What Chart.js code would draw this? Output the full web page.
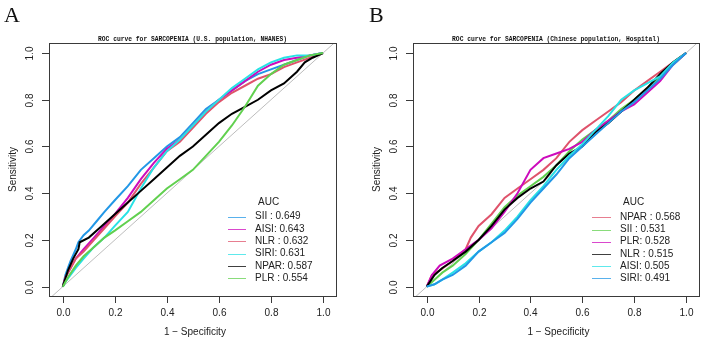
<!DOCTYPE html>
<html>
<head>
<meta charset="utf-8">
<script src="https://cdn.jsdelivr.net/npm/chart.js@4.4.0/dist/chart.umd.min.js"></script>
<style>
  html, body { margin: 0; padding: 0; background: #fff; }
  #wrap { position: relative; width: 708px; height: 345px; overflow: hidden; }
  .panel { position: absolute; top: 0; width: 354px; height: 345px; }
  .letter { position: absolute; top: 3px; font-family: "Liberation Serif", "DejaVu Serif", serif; font-size: 22px; line-height: 24px; color: #111; }
</style>
</head>
<body>
<div id="wrap">
  <div class="panel" style="left:0"><canvas id="rocA"></canvas></div>
  <div class="panel" style="left:354px"><canvas id="rocB"></canvas></div>
  <div class="letter" style="left:4px">A</div>
  <div class="letter" style="left:369px">B</div>
</div>
<script>
// axis ticks shared by both panels
const tickValues = [0, 0.2, 0.4, 0.6, 0.8, 1.0];
const tickLabels = ['0.0', '0.2', '0.4', '0.6', '0.8', '1.0'];

// ---- Panel A: U.S. population, NHANES ----
const titleA = 'ROC curve for SARCOPENIA (U.S. population, NHANES)';
const labelsA = ['SII : ', 'AISI: ', 'NLR : ', 'SIRI: ', 'NPAR: ', 'PLR : '];
const aucA = [0.649, 0.643, 0.632, 0.631, 0.587, 0.554];
const colorsA = ['#2297E6', '#CD0BBC', '#DF536B', '#28E2E5', '#000000', '#61D04F'];

const fprA_SII = [0, 0.01, 0.02, 0.03, 0.05, 0.06, 0.08, 0.1, 0.13, 0.16, 0.2, 0.25, 0.3, 0.35, 0.4, 0.45, 0.5, 0.55, 0.6, 0.65, 0.7, 0.75, 0.8, 0.85, 0.9, 0.95, 1];
const tprA_SII = [0, 0.05, 0.08, 0.11, 0.16, 0.19, 0.22, 0.24, 0.28, 0.32, 0.37, 0.43, 0.5, 0.55, 0.6, 0.64, 0.7, 0.76, 0.8, 0.84, 0.88, 0.91, 0.93, 0.95, 0.97, 0.99, 1];
const fprA_AISI = [0, 0.01, 0.03, 0.05, 0.08, 0.12, 0.16, 0.2, 0.25, 0.3, 0.35, 0.4, 0.45, 0.5, 0.55, 0.6, 0.65, 0.7, 0.75, 0.8, 0.85, 0.9, 0.95, 1];
const tprA_AISI = [0, 0.04, 0.08, 0.12, 0.16, 0.21, 0.26, 0.31, 0.38, 0.46, 0.53, 0.59, 0.63, 0.69, 0.75, 0.8, 0.84, 0.88, 0.92, 0.95, 0.97, 0.98, 0.99, 1];
const fprA_NLR = [0, 0.01, 0.03, 0.05, 0.08, 0.12, 0.16, 0.2, 0.25, 0.3, 0.35, 0.4, 0.45, 0.5, 0.55, 0.6, 0.65, 0.7, 0.75, 0.8, 0.85, 0.9, 0.95, 1];
const tprA_NLR = [0, 0.04, 0.08, 0.12, 0.15, 0.2, 0.25, 0.3, 0.36, 0.44, 0.51, 0.58, 0.62, 0.68, 0.74, 0.79, 0.83, 0.86, 0.89, 0.91, 0.94, 0.96, 0.98, 1];
const fprA_SIRI = [0, 0.01, 0.03, 0.05, 0.08, 0.12, 0.16, 0.2, 0.25, 0.3, 0.35, 0.4, 0.45, 0.5, 0.55, 0.6, 0.65, 0.7, 0.75, 0.8, 0.85, 0.9, 0.95, 1];
const tprA_SIRI = [0, 0.02, 0.05, 0.08, 0.12, 0.17, 0.21, 0.26, 0.32, 0.42, 0.51, 0.58, 0.63, 0.69, 0.75, 0.8, 0.85, 0.89, 0.93, 0.96, 0.98, 0.99, 0.99, 1];
const fprA_NPAR = [0, 0.02, 0.04, 0.06, 0.065, 0.1, 0.15, 0.2, 0.25, 0.3, 0.35, 0.4, 0.45, 0.5, 0.55, 0.6, 0.65, 0.7, 0.75, 0.8, 0.85, 0.9, 0.93, 0.96, 1];
const tprA_NPAR = [0, 0.07, 0.12, 0.16, 0.19, 0.21, 0.26, 0.31, 0.36, 0.41, 0.46, 0.51, 0.56, 0.6, 0.65, 0.7, 0.74, 0.77, 0.8, 0.84, 0.87, 0.92, 0.96, 0.98, 1];
const fprA_PLR = [0, 0.02, 0.05, 0.08, 0.12, 0.16, 0.2, 0.25, 0.3, 0.35, 0.4, 0.45, 0.5, 0.55, 0.6, 0.65, 0.7, 0.75, 0.8, 0.85, 0.9, 0.95, 1];
const tprA_PLR = [0, 0.04, 0.09, 0.13, 0.17, 0.21, 0.24, 0.28, 0.32, 0.37, 0.42, 0.46, 0.5, 0.56, 0.62, 0.69, 0.77, 0.86, 0.91, 0.95, 0.97, 0.99, 1];

// ---- Panel B: Chinese population, Hospital ----
const titleB = 'ROC curve for SARCOPENIA (Chinese population, Hospital)';
const labelsB = ['NPAR : ', 'SII : ', 'PLR: ', 'NLR : ', 'AISI: ', 'SIRI: '];
const aucB = [0.568, 0.531, 0.528, 0.515, 0.505, 0.491];
const colorsB = ['#DF536B', '#61D04F', '#CD0BBC', '#000000', '#28E2E5', '#2297E6'];

const fprB_NPAR = [0, 0.02, 0.05, 0.1, 0.15, 0.17, 0.2, 0.25, 0.3, 0.35, 0.4, 0.45, 0.5, 0.55, 0.6, 0.65, 0.7, 0.75, 0.8, 0.85, 0.9, 0.95, 1];
const tprB_NPAR = [0, 0.05, 0.07, 0.11, 0.16, 0.21, 0.26, 0.31, 0.38, 0.42, 0.46, 0.5, 0.55, 0.62, 0.67, 0.71, 0.75, 0.79, 0.84, 0.88, 0.92, 0.96, 1];
const fprB_SII = [0, 0.03, 0.06, 0.1, 0.15, 0.2, 0.25, 0.3, 0.35, 0.4, 0.45, 0.5, 0.55, 0.6, 0.65, 0.7, 0.75, 0.8, 0.85, 0.9, 0.95, 1];
const tprB_SII = [0, 0.03, 0.06, 0.09, 0.14, 0.2, 0.27, 0.34, 0.39, 0.43, 0.47, 0.52, 0.58, 0.63, 0.67, 0.71, 0.76, 0.8, 0.85, 0.9, 0.95, 1];
const fprB_PLR = [0, 0.02, 0.05, 0.1, 0.15, 0.2, 0.25, 0.3, 0.35, 0.4, 0.45, 0.5, 0.55, 0.6, 0.65, 0.7, 0.75, 0.8, 0.85, 0.9, 0.95, 1];
const tprB_PLR = [0, 0.05, 0.09, 0.12, 0.16, 0.2, 0.25, 0.32, 0.4, 0.5, 0.55, 0.57, 0.59, 0.62, 0.67, 0.71, 0.75, 0.78, 0.83, 0.88, 0.95, 1];
const fprB_NLR = [0, 0.03, 0.06, 0.1, 0.15, 0.2, 0.25, 0.3, 0.35, 0.4, 0.45, 0.5, 0.55, 0.6, 0.65, 0.7, 0.75, 0.8, 0.85, 0.9, 0.95, 1];
const tprB_NLR = [0, 0.05, 0.08, 0.11, 0.15, 0.2, 0.26, 0.33, 0.38, 0.42, 0.45, 0.52, 0.57, 0.6, 0.66, 0.7, 0.75, 0.8, 0.85, 0.91, 0.96, 1];
const fprB_AISI = [0, 0.03, 0.06, 0.1, 0.15, 0.2, 0.25, 0.3, 0.35, 0.4, 0.45, 0.5, 0.55, 0.6, 0.65, 0.7, 0.75, 0.8, 0.85, 0.9, 0.95, 1];
const tprB_AISI = [0, 0.01, 0.03, 0.06, 0.1, 0.15, 0.19, 0.24, 0.3, 0.37, 0.43, 0.5, 0.56, 0.61, 0.67, 0.73, 0.8, 0.84, 0.87, 0.9, 0.96, 1];
const fprB_SIRI = [0, 0.03, 0.06, 0.1, 0.15, 0.2, 0.25, 0.3, 0.35, 0.4, 0.45, 0.5, 0.55, 0.6, 0.65, 0.7, 0.75, 0.8, 0.85, 0.9, 0.95, 1];
const tprB_SIRI = [0, 0.01, 0.03, 0.05, 0.09, 0.15, 0.19, 0.23, 0.29, 0.36, 0.42, 0.48, 0.55, 0.6, 0.65, 0.7, 0.75, 0.79, 0.84, 0.89, 0.95, 1];

const curvesA = [[fprA_SII, tprA_SII], [fprA_AISI, tprA_AISI], [fprA_NLR, tprA_NLR], [fprA_SIRI, tprA_SIRI], [fprA_NPAR, tprA_NPAR], [fprA_PLR, tprA_PLR]];
const curvesB = [[fprB_NPAR, tprB_NPAR], [fprB_SII, tprB_SII], [fprB_PLR, tprB_PLR], [fprB_NLR, tprB_NLR], [fprB_AISI, tprB_AISI], [fprB_SIRI, tprB_SIRI]];

const X_MIN = -0.053, X_MAX = 1.05;
const Y_MIN = -0.04, Y_MAX = 1.043;
const AXIS_FONT = '10px "Liberation Sans", Arial, sans-serif';

/**
 * Draws the R-style box, ticks, labels, title and legend
 */
const rocFrame = {
  id: 'rocFrame',
  afterDraw(chart, args, opts) {
    const { ctx, chartArea: a, scales: { x, y } } = chart;
    ctx.save();
    ctx.strokeStyle = '#3a3a3a';
    ctx.lineWidth = 1;
    ctx.strokeRect(Math.round(a.left) + 0.5, Math.round(a.top) + 0.5,
      Math.round(a.right - a.left), Math.round(a.bottom - a.top));

    ctx.font = AXIS_FONT;
    ctx.fillStyle = '#222';
    ctx.textAlign = 'center';
    ctx.textBaseline = 'middle';

    // x axis
    tickValues.forEach((v, i) => {
      const px = Math.round(x.getPixelForValue(v)) + 0.5;
      ctx.beginPath();
      ctx.moveTo(px, a.bottom + 1);
      ctx.lineTo(px, a.bottom + 7);
      ctx.stroke();
      ctx.fillText(tickLabels[i], px, a.bottom + 17);
    });
    // y axis, labels parallel to the axis
    tickValues.forEach((v, i) => {
      const py = Math.round(y.getPixelForValue(v)) + 0.5;
      ctx.beginPath();
      ctx.moveTo(a.left, py);
      ctx.lineTo(a.left - 7, py);
      ctx.stroke();
      ctx.save();
      ctx.translate(a.left - 19, py);
      ctx.rotate(-Math.PI / 2);
      ctx.fillText(tickLabels[i], 0, 0);
      ctx.restore();
    });

    // axis titles
    ctx.fillText('1 \u2212 Specificity', (x.getPixelForValue(0) + x.getPixelForValue(1)) / 2 + 2, a.bottom + 36);
    ctx.save();
    ctx.translate(a.left - 36, (a.top + a.bottom) / 2);
    ctx.rotate(-Math.PI / 2);
    ctx.fillText('Sensitivity', 0, 0);
    ctx.restore();

    // main title
    ctx.font = 'bold 6.3px "Liberation Mono", "DejaVu Sans Mono", monospace';
    ctx.fillStyle = '#111';
    ctx.fillText(opts.title, (a.left + a.right) / 2, a.top - 4);

    // legend (bottom right, no box)
    const lg = opts.legend;
    ctx.font = AXIS_FONT;
    ctx.fillStyle = '#222';
    ctx.textAlign = 'left';
    ctx.fillText('AUC', a.left + lg.titleX, a.top + lg.titleY);
    opts.labels.forEach((lab, i) => {
      const ry = a.top + lg.rowY + i * lg.rowGap;
      ctx.strokeStyle = opts.colors[i];
      ctx.globalAlpha = 0.75;
      ctx.lineWidth = 1;
      ctx.beginPath();
      ctx.moveTo(a.left + lg.lineX0, Math.round(ry) + 0.5);
      ctx.lineTo(a.left + lg.lineX1, Math.round(ry) + 0.5);
      ctx.stroke();
      ctx.globalAlpha = 1;
      ctx.fillText(lab + opts.aucs[i].toFixed(3), a.left + lg.textX, ry);
    });
    ctx.restore();
  }
};

function buildDatasets(curves, colors) {
  const sets = curves.map(([fpr, tpr], i) => ({
    data: fpr.map((v, k) => ({ x: v, y: tpr[k] })),
    borderColor: colors[i],
    borderWidth: 2,
    pointRadius: 0,
    tension: 0,
    fill: false,
    order: -i,
  }));
  // chance line
  sets.push({
    data: [{ x: X_MIN, y: X_MIN }, { x: X_MAX, y: X_MAX }],
    borderColor: '#bdbdbd',
    borderWidth: 1,
    pointRadius: 0,
    fill: false,
    order: 100,
  });
  return sets;
}

function createRocChart(canvas, curves, colors, padding, frameOpts) {
  return new Chart(canvas, {
    type: 'line',
    data: { datasets: buildDatasets(curves, colors) },
    options: {
      responsive: true,
      maintainAspectRatio: false,
      animation: false,
      events: [],
      layout: { padding: padding },
      plugins: {
        legend: { display: false },
        tooltip: { enabled: false },
        title: { display: false },
        rocFrame: frameOpts,
      },
      scales: {
        x: { type: 'linear', min: X_MIN, max: X_MAX, display: false },
        y: { type: 'linear', min: Y_MIN, max: Y_MAX, display: false },
      },
    },
    plugins: [rocFrame],
  });
}

createRocChart(document.getElementById('rocA'), curvesA, colorsA,
  { left: 49, top: 43, right: 18, bottom: 49 },
  {
    title: titleA, labels: labelsA, aucs: aucA, colors: colorsA,
    legend: { titleX: 209, titleY: 159.5, rowY: 173.7, rowGap: 12.3, lineX0: 179, lineX1: 197, textX: 206 },
  });

createRocChart(document.getElementById('rocB'), curvesB, colorsB,
  { left: 59, top: 43, right: 9, bottom: 49 },
  {
    title: titleB, labels: labelsB, aucs: aucB, colors: colorsB,
    legend: { titleX: 210, titleY: 159.5, rowY: 174.3, rowGap: 12.2, lineX0: 179, lineX1: 198, textX: 207 },
  });
</script>
</body>
</html>
